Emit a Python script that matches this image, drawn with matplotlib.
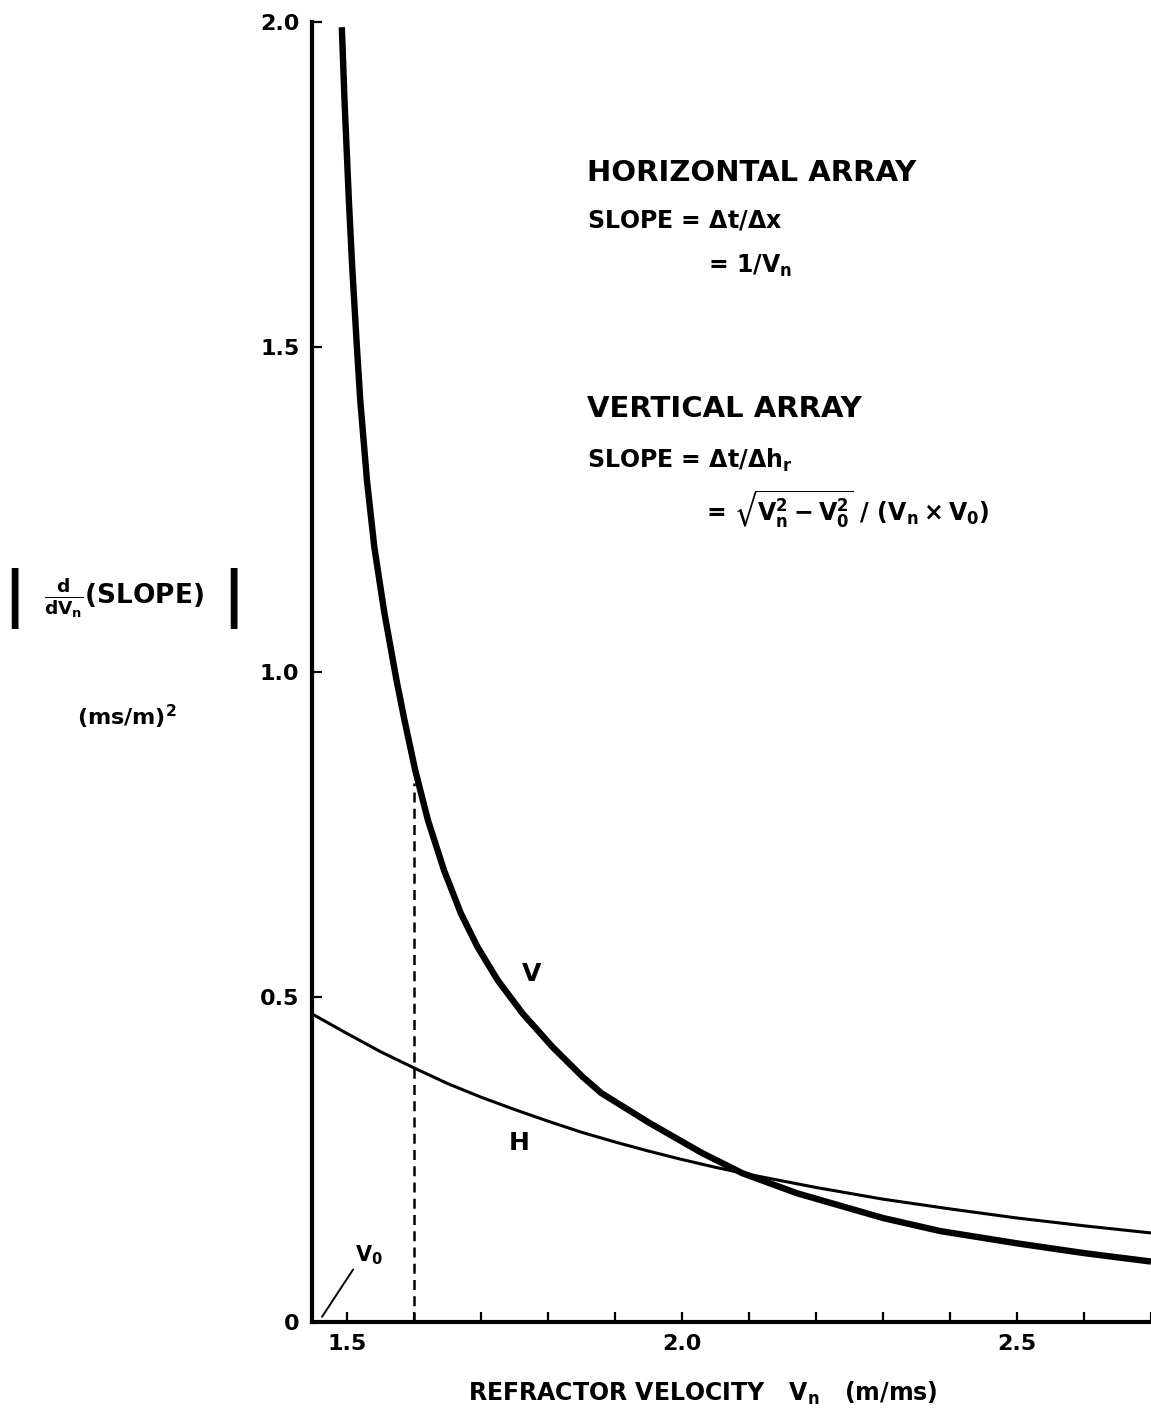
import numpy as np
import matplotlib
matplotlib.use("Agg")
from matplotlib import pyplot as plt

# values
# H curve: horizontal array, |d/dVn (1/Vn)|
h_vel = [1.448, 1.50, 1.55, 1.60, 1.65, 1.70, 1.75, 1.80, 1.85, 1.90,
         1.95, 2.00, 2.05, 2.10, 2.20, 2.30, 2.40, 2.50, 2.60, 2.70]
h_val = [0.474, 0.444, 0.416, 0.391, 0.367, 0.346, 0.327, 0.309, 0.292, 0.277,
         0.263, 0.250, 0.238, 0.227, 0.207, 0.189, 0.174, 0.160, 0.148, 0.137]

# V curve: vertical array
v_vel = [1.4925, 1.4965, 1.503, 1.508, 1.515, 1.520, 1.530, 1.541, 1.556, 1.574,
         1.586, 1.602, 1.621, 1.645, 1.670, 1.695, 1.725, 1.762, 1.807, 1.852,
         1.880, 1.952, 2.030, 2.090, 2.172, 2.300, 2.385, 2.500, 2.600, 2.700]
v_val = [1.992, 1.880, 1.726, 1.623, 1.500, 1.418, 1.295, 1.192, 1.091, 0.988,
         0.926, 0.849, 0.772, 0.695, 0.629, 0.577, 0.526, 0.475, 0.423, 0.377,
         0.352, 0.306, 0.260, 0.229, 0.198, 0.160, 0.140, 0.121, 0.106, 0.093]

V0 = 1.463          # water velocity marker
dash_vel = 1.60     # dashed marker line
dash_top = 0.83

x_major = [1.5, 2.0, 2.5]
x_major_labels = ["1.5", "2.0", "2.5"]
x_minor = [1.6, 1.7, 1.8, 1.9, 2.1, 2.2, 2.3, 2.4, 2.6, 2.7]
y_major = [0, 0.5, 1.0, 1.5, 2.0]
y_major_labels = ["0", "0.5", "1.0", "1.5", "2.0"]

plt.rcParams['font.family'] = ['DejaVu Sans']
plt.rcParams['font.weight'] = 'bold'
plt.rcParams['mathtext.fontset'] = 'dejavusans'
plt.rcParams['mathtext.default'] = 'bf'

W, H = 1151, 1414
fig = plt.figure(figsize=(W / 100, H / 100), dpi=100)
fig.patch.set_facecolor('white')


def fpos(px, py):
    # pixel position in the picture -> figure fraction
    return px / W, 1 - py / H


ax = fig.add_axes([312 / W, 92 / H, 839 / W, 1300 / H])
ax.set_xlim(1.448, 2.70)
ax.set_ylim(0, 2.0)

ax.plot(h_vel, h_val, color='black', lw=2.2, solid_capstyle='butt')
ax.plot(v_vel, v_val, color='black', lw=4.6, solid_capstyle='butt',
        solid_joinstyle='round')
ax.vlines(dash_vel, 0, dash_top, colors='black', lw=1.8, linestyles=(0, (4, 2.5)))

# V0 marker
ax.annotate(r"$V_0$", xy=(V0, 0.008), xytext=(1.512, 0.085),
            fontsize=15, ha='left', va='bottom',
            arrowprops=dict(arrowstyle='-', color='black', lw=1.4,
                            shrinkA=0, shrinkB=0, relpos=(0, 0)))

# curve labels
ax.text(1.776, 0.535, "V", fontsize=18, ha='center', va='center')
ax.text(1.757, 0.275, "H", fontsize=18, ha='center', va='center')

for side in ['top', 'right']:
    ax.spines[side].set_visible(False)
for side in ['left', 'bottom']:
    ax.spines[side].set_linewidth(3.0)

ax.set_xticks(x_major)
ax.set_xticklabels(x_major_labels)
ax.set_xticks(x_minor, minor=True)
ax.set_yticks(y_major)
ax.set_yticklabels(y_major_labels)
ax.tick_params(axis='both', which='both', direction='in', length=7, width=1.6,
               labelsize=16)
ax.tick_params(axis='x', which='major', pad=9)
ax.tick_params(axis='y', which='major', pad=9)

# axis titles
fig.text(*fpos(703, 1393), r"REFRACTOR VELOCITY   $V_n$   (m/ms)",
         fontsize=17, ha='center', va='center')
fig.text(*fpos(14, 598), "|", fontsize=44, ha='center', va='center')
fig.text(*fpos(233, 598), "|", fontsize=44, ha='center', va='center')
fig.text(*fpos(124, 598), r"$\frac{d}{dV_n}\mathbf{(SLOPE)}$",
         fontsize=19, ha='center', va='center')
fig.text(*fpos(127, 717), r"(ms/m)$^2$", fontsize=16, ha='center', va='center')

# formulas
fig.text(*fpos(587, 173), "HORIZONTAL ARRAY", fontsize=21, ha='left', va='center')
fig.text(*fpos(587, 220), r"SLOPE = $\Delta t/\Delta x$", fontsize=17,
         ha='left', va='center')
fig.text(*fpos(708, 266), r"= $1/V_n$", fontsize=17, ha='left', va='center')
fig.text(*fpos(587, 409), "VERTICAL ARRAY", fontsize=21, ha='left', va='center')
fig.text(*fpos(587, 460), r"SLOPE = $\Delta t/\Delta h_r$", fontsize=17,
         ha='left', va='center')
fig.text(*fpos(706, 510), r"= $\sqrt{V_n^2 - V_0^2}\ /\ (V_n \times V_0)$",
         fontsize=17, ha='left', va='center')

fig.savefig("out.png", dpi=100, facecolor='white')
